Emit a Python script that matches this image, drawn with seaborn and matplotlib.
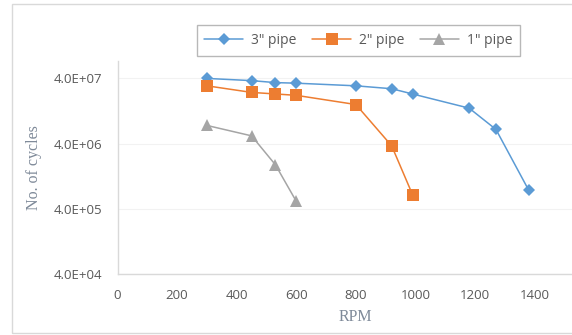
import pandas as pd
import matplotlib.pyplot as plt
import matplotlib.ticker as mticker
from matplotlib.patches import Rectangle
import seaborn as sns

# RPM vs number of cycles for three pipe sizes
rpm_3in = [300, 450, 530, 600, 800, 920, 990, 1180, 1270, 1380]
cycles_3in = [4.0e7, 3.7e7, 3.45e7, 3.38e7, 3.08e7, 2.78e7, 2.31e7, 1.40e7, 6.6e6, 7.7e5]

rpm_2in = [300, 450, 530, 600, 800, 920, 990]
cycles_2in = [3.08e7, 2.44e7, 2.31e7, 2.2e7, 1.59e7, 3.7e6, 6.6e5]

rpm_1in = [300, 450, 530, 600]
cycles_1in = [7.6e6, 5.26e6, 1.89e6, 5.2e5]

y_ticks = [4e4, 4e5, 4e6, 4e7]
x_ticks = [0, 200, 400, 600, 800, 1000, 1200, 1400]

sns.set_style('white')
plt.rcParams['font.family'] = ['Open Sans', 'DejaVu Sans']

fig = plt.figure(figsize=(5.72, 3.35), dpi=100)
ax = fig.add_axes([117.5 / 572, (335 - 274) / 335, 476.8 / 572, 213 / 335])

series = [
    ('3" pipe', rpm_3in, cycles_3in, '#5B9BD5', 'D', 6.5),
    ('2" pipe', rpm_2in, cycles_2in, '#ED7D31', 's', 8.5),
    ('1" pipe', rpm_1in, cycles_1in, '#A5A5A5', '^', 8.5),
]
for name, xs, ys, color, mk, ms in series:
    df = pd.DataFrame({'RPM': xs, 'Cycles': ys})
    sns.lineplot(data=df, x='RPM', y='Cycles', ax=ax, color=color, marker=mk,
                 markersize=ms, markeredgewidth=0, linewidth=1.1, label=name)

ax.set_yscale('log')
ax.set_ylim(4e4, 7.4e7)
ax.set_xlim(0, 1600)
ax.yaxis.set_major_locator(mticker.FixedLocator(y_ticks))
ax.yaxis.set_minor_locator(mticker.NullLocator())
ax.yaxis.set_major_formatter(mticker.FuncFormatter(lambda v, p: '%.1E' % v))
ax.set_xticks(x_ticks)

ax.grid(axis='y', color='#f2f2f2', linewidth=0.8)
ax.tick_params(length=0, labelsize=9.5, colors='#595959')
ax.tick_params(axis='y', pad=11)
ax.tick_params(axis='x', pad=11)
for s in ['top', 'right']:
    ax.spines[s].set_visible(False)
for s in ['left', 'bottom']:
    ax.spines[s].set_color('#d9d9d9')
    ax.spines[s].set_linewidth(1)

ax.set_xlabel('RPM', family='Liberation Serif', fontsize=11.5, color='#7f8a99', labelpad=5)
ax.set_ylabel('No. of cycles', family='Liberation Serif', fontsize=11.5, color='#7f8a99', labelpad=8)

leg = ax.legend(loc='center', bbox_to_anchor=(358.5 / 572, 1 - 40.5 / 335),
                bbox_transform=fig.transFigure, ncol=3, frameon=True, fancybox=False,
                handlelength=2.8, handletextpad=0.6, columnspacing=1.1, fontsize=10,
                borderpad=0.55)
leg.get_frame().set_edgecolor('#a6a6a6')
leg.get_frame().set_linewidth(1)
for t in leg.get_texts():
    t.set_color('#595959')

fig.patches.append(Rectangle((11.7 / 572, 2 / 335), 1.2, 329 / 335, transform=fig.transFigure,
                             fill=False, edgecolor='#d9d9d9', linewidth=1))

fig.savefig('out.png', dpi=100)
